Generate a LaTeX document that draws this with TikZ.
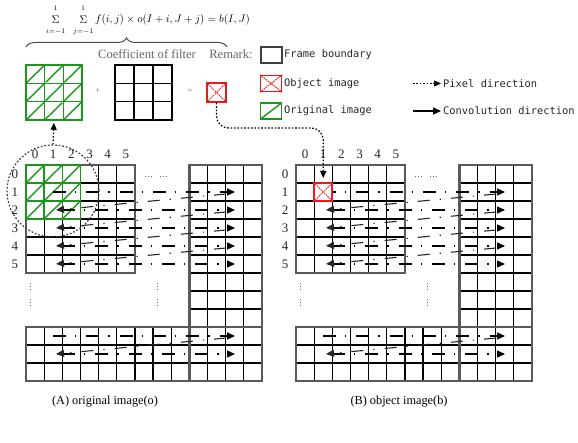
\documentclass[tikz,border=0pt]{standalone}
\usepackage{fontspec}
\setmainfont{Liberation Serif}
\newfontfamily\legendfont{DejaVu Sans Mono}
\usetikzlibrary{arrows.meta,decorations.pathreplacing,calc}

\definecolor{hatchgreen}{RGB}{30,150,30}
\definecolor{objred}{RGB}{235,25,25}

% cell size of the image grids
\newcommand\cw{18.15}
\newcommand\ch{18}

% summation sign with limits above and below, set apart from the sign
\newcommand\wsum[1]{\mathop{\Sigma}\limits_{\raisebox{-4pt}{$\scriptstyle #1$}}^{\raisebox{3.5pt}{$\scriptstyle 1$}}}

% one image frame: L-shaped grid, row/column numbers and elision marks
\newcommand\framegrid[1]{%
  \foreach \c in {0,...,5}{\foreach \r in {0,...,5}{%
    \draw[cell] ({26+\c*\cw},{165+\r*\ch}) rectangle ++(\cw,\ch);}}
  \foreach \c in {9,...,12}{\foreach \r in {0,...,11}{%
    \draw[cell] ({26+\c*\cw},{165+\r*\ch}) rectangle ++(\cw,\ch);}}
  \foreach \c in {0,...,8}{\foreach \r in {9,...,11}{%
    \draw[cell] ({26+\c*\cw},{165+\r*\ch}) rectangle ++(\cw,\ch);}}
  % outer boundaries of the three blocks
  \draw[outline] (26,165) rectangle ({26+6*\cw},{165+6*\ch});
  \draw[outline] ({26+9*\cw},165) rectangle ({26+13*\cw},{165+12*\ch});
  \draw[outline] (26,{165+9*\ch}) rectangle ({26+13*\cw},{165+12*\ch});
  % column and row numbers
  \foreach \c in {0,...,5}{%
    \node[numlabel] (#1col\c) at ({26+(\c+0.5)*\cw},154) {\c};}
  \foreach \r in {0,...,5}{%
    \node[numlabel] (#1row\r) at (15,{174+\r*\ch}) {\r};}
  % elided rows and columns
  \draw[elide] (145,176) -- (152,176);
  \draw[elide] (160,176) -- (167,176);
  \foreach \x in {30,157}{%
    \draw[elide] (\x,283) -- (\x,290);
    \draw[elide] (\x,299) -- (\x,306);}
}

% scan paths over the frame
\newcommand\scanpaths{%
  \foreach \r in {1,9}{%
    \draw[conv] (53,{174+\r*\ch}) -- (235,{174+\r*\ch});}
  \foreach \r in {2,3,4,5,10}{%
    \draw[conv] (62,{174+\r*\ch}) -- (235,{174+\r*\ch});}
  \foreach \r in {1,2,3,4,9}{%
    \draw[ret] (226,{176+\r*\ch}) -- (56,{174+(\r+1)*\ch});}
}

\begin{document}
\begin{tikzpicture}[x=1pt,y=-1pt,
  cell/.style={draw=black,line width=1.3pt},
  outline/.style={draw=black!65,line width=2.3pt},
  greencell/.style={draw=hatchgreen,line width=1.4pt},
  hatch/.style={draw=hatchgreen,line width=1.4pt},
  tip/.style={-{Triangle[length=8pt,width=7pt]}},
  conv/.style={line width=1.4pt,dash pattern=on 13pt off 9pt on 1.3pt off 10pt,tip},
  ret/.style={line width=1.1pt,black!85,dash pattern=on 12pt off 10pt on 1.3pt off 10pt,tip},
  pixel/.style={line width=1.2pt,dash pattern=on 1.6pt off 1.8pt,
    -{Triangle[length=7pt,width=6pt]}},
  elide/.style={line width=0.9pt,black!60,dash pattern=on 1.4pt off 1.4pt},
  numlabel/.style={font=\fontsize{13}{15}\selectfont,text=black!85,inner sep=0pt},
  legbox/.style={minimum width=21pt,minimum height=16pt,inner sep=0pt},
  legtext/.style={font=\legendfont\fontsize{10.4}{12}\selectfont,text=black!85,
    anchor=west,inner sep=0pt},
  graytext/.style={font=\fontsize{12.6}{14}\selectfont,text=black!60,inner sep=0pt},
  caption/.style={font=\fontsize{12.3}{14}\selectfont,inner sep=0pt}
]
\useasboundingbox (0,0) rectangle (578,443);

% ---------- convolution formula ----------
\node[font=\fontsize{10.6}{12}\selectfont,inner sep=0pt] (formula) at (148,20)
  {$\wsum{i=-1}\;\;\wsum{j=-1} f(i,j)\times o(I+i,J+j)=b(I,J)$};
\draw[decorate,decoration={brace,amplitude=9pt},line width=1pt,black!70]
  (26,47) -- (227,47);
\node[graytext] (coef) at (147,54) {Coefficient of filter};
\node[graytext] (remark) at (231,54) {Remark:};

% ---------- filter window, coefficients and result ----------
\node[draw=hatchgreen,line width=1.5pt,minimum width=56pt,minimum height=55pt,
  inner sep=0pt] (gfilter) at (54,92.5) {};
\foreach \i in {1,2}{%
  \draw[hatch] ({26+\i*56/3},65) -- ({26+\i*56/3},120);
  \draw[hatch] (26,{65+\i*55/3}) -- (82,{65+\i*55/3});}
\foreach \i in {0,1,2}{\foreach \j in {0,1,2}{%
  \draw[hatch] ({27+\i*56/3},{64+(\j+1)*55/3}) -- ({25+(\i+1)*56/3},{66+\j*55/3});}}

\node[draw=black,line width=1.6pt,minimum width=57pt,minimum height=55pt,
  inner sep=0pt] (kfilter) at (143.5,92.5) {};
\foreach \i in {1,2}{%
  \draw[line width=1.6pt] ({115+\i*19},65) -- ({115+\i*19},120);
  \draw[line width=1.6pt] (115,{65+\i*55/3}) -- (172,{65+\i*55/3});}

\node[font=\fontsize{9}{10}\selectfont,text=black!55] (plus) at (98,91) {+};
\node[font=\fontsize{9}{10}\selectfont,text=black!55] (equals) at (190,91) {=};

\node[draw=objred,line width=1.6pt,minimum size=19pt,inner sep=0pt] (objbox)
  at (216.5,92.5) {};
\draw[objred,line width=1pt,dash pattern=on 1.5pt off 1pt]
  (objbox.south west) -- (objbox.north east)
  (objbox.north west) -- (objbox.south east);

% ---------- legend ----------
\node[legbox,draw=black!75,line width=2pt] (lgframe) at (271,55) {};
\node[legtext] (lgframetext) at (284,55) {Frame boundary};
\node[legbox,draw=objred,line width=1.6pt] (lgobj) at (271,83.5) {};
\draw[objred,line width=1pt,dash pattern=on 1.5pt off 1pt]
  (lgobj.south west) -- (lgobj.north east) (lgobj.north west) -- (lgobj.south east);
\node[legtext] (lgobjtext) at (284,83.5) {Object image};
\node[legbox,draw=hatchgreen,line width=1.6pt] (lgorig) at (271,111) {};
\draw[hatch] ($(lgorig.south west)+(1,-1)$) -- ($(lgorig.north east)+(-1,1)$);
\node[legtext] (lgorigtext) at (284,111) {Original image};

\coordinate (pxa) at (413,83.5);
\coordinate (pxb) at (441,83.5);
\draw[pixel] (pxa) -- (pxb);
\node[legtext] (pxtext) at (443,83.5) {Pixel direction};
\coordinate (cva) at (413,111);
\coordinate (cvb) at (441,111);
\draw[line width=1.5pt,tip] (cva) -- (cvb);
\node[legtext] (cvtext) at (443,111) {Convolution direction};

% ---------- (A) original image ----------
\begin{scope}
  \framegrid{A}
  \foreach \c in {0,1,2}{\foreach \r in {0,1,2}{%
    \draw[greencell,fill=white] ({26+\c*\cw},{165+\r*\ch}) rectangle ++(\cw,\ch);
    \draw[hatch] ({27+\c*\cw},{164+(\r+1)*\ch}) -- ({25+(\c+1)*\cw},{166+\r*\ch});}}
  \scanpaths
  \node[circle,draw=black!75,line width=1.2pt,dash pattern=on 1.8pt off 1.8pt,
    minimum size=92pt,inner sep=0pt] (lens) at (53,191) {};
  \draw[pixel,shorten >=2pt] (lens.north) -- (gfilter.south);
\end{scope}

% ---------- (B) object image ----------
\begin{scope}[xshift=270pt]
  \framegrid{B}
  \scanpaths
  \node[draw=objred,fill=white,line width=1.6pt,minimum width=18pt,minimum height=18pt,
    inner sep=0pt] (bcell) at ({26+1.5*\cw},192) {};
  \draw[objred,line width=1pt,dash pattern=on 1.5pt off 1pt]
    (bcell.south west) -- (bcell.north east) (bcell.north west) -- (bcell.south east);
  \coordinate (bturn) at ({26+1.5*\cw},128);
  \coordinate (btarget) at ({26+1.5*\cw},178);
\end{scope}
\draw[pixel,rounded corners=12pt] (objbox.south) |- (bturn) -- (btarget);

% ---------- captions ----------
\node[caption] (capA) at (105,402) {(A) original image(o)};
\node[caption] (capB) at (399,402) {(B) object image(b)};
\end{tikzpicture}
\end{document}
